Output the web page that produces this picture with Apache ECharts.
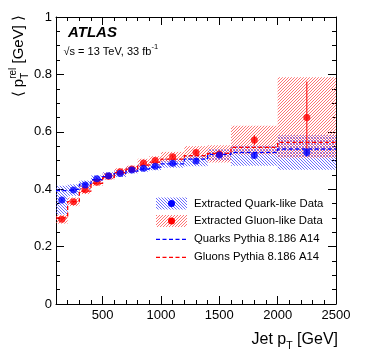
<!DOCTYPE html>
<html><head><meta charset="utf-8">
<script src="https://cdn.jsdelivr.net/npm/echarts@6/dist/echarts.min.js"></script>
<style>html,body{margin:0;padding:0;background:#fff}#c{width:374px;height:355px}</style>
</head><body><div id="c"></div>
<script>
// ---- data ----
const binEdges = [100,200,300,400,500,600,700,800,900,1000,1200,1400,1600,2000,2500];
const quarkData = [0.362,0.397,0.415,0.436,0.447,0.455,0.467,0.473,0.480,0.490,0.498,0.519,0.517,0.528];
const quarkStat = [0.005,0.004,0.004,0.003,0.003,0.003,0.003,0.003,0.004,0.004,0.005,0.007,0.010,0.015];
const quarkSyst = [0.050,0.020,0.015,0.012,0.012,0.012,0.012,0.012,0.014,0.015,0.018,0.020,0.035,0.060];
const gluonData = [0.295,0.356,0.398,0.424,0.445,0.461,0.470,0.491,0.500,0.513,0.528,0.523,0.571,0.650];
const gluonStat = [0.004,0.003,0.003,0.003,0.003,0.003,0.003,0.004,0.004,0.005,0.007,0.010,0.018,0.125];
const gluonSyst = [0.015,0.015,0.015,0.012,0.012,0.012,0.012,0.015,0.015,0.017,0.022,0.030,0.050,0.140];
const quarkMC = [0.395,0.400,0.418,0.433,0.444,0.455,0.463,0.470,0.477,0.488,0.505,0.521,0.528,0.540];
const gluonMC = [0.300,0.357,0.393,0.420,0.440,0.458,0.470,0.484,0.494,0.505,0.517,0.525,0.546,0.563];
const xTickLabels = [500,1000,1500,2000,2500];
const yTickLabels = [0,0.2,0.4,0.6,0.8,1];
const legendLabels = ['Extracted Quark-like Data','Extracted Gluon-like Data','Quarks Pythia 8.186 A14','Gluons Pythia 8.186 A14'];

const FONT = '"Liberation Sans", Arial, Helvetica, sans-serif';
const BLUE = '#0000ff', RED = '#ff0000';
const mctx = document.createElement('canvas').getContext('2d');
function tw(t, size, pre){ mctx.font = (pre||'') + ' ' + size + 'px ' + FONT; return mctx.measureText(t).width; }

function makeHatch(color, back){
  const s = 3, c = document.createElement('canvas'); c.width = s; c.height = s;
  const g = c.getContext('2d'); g.fillStyle = color;
  for (let i = 0; i < s; i++) { const x = back ? i : s - 1 - i; g.fillRect(x, i, 1, 1); }
  return {image: c, repeat: 'repeat'};
}
const blueHatch = makeHatch('rgba(60,60,255,0.75)', true);
const redHatch = makeHatch('rgba(255,70,70,0.75)', false);

const centers = quarkData.map((_, i) => (binEdges[i] + binEdges[i+1]) / 2);

function bandSeries(vals, syst, pattern){
  return {type:'custom', xAxisIndex:0, yAxisIndex:0, z:2,
    data: vals.map((v,i)=>[binEdges[i], binEdges[i+1], v - syst[i], v + syst[i]]),
    encode:{x:[0,1], y:[2,3]},
    renderItem:(p, api)=>{
      const a = api.coord([api.value(0), api.value(3)]);
      const b = api.coord([api.value(1), api.value(2)]);
      return {type:'rect', shape:{x:a[0], y:a[1], width:b[0]-a[0], height:b[1]-a[1]}, style:{fill:pattern}};
    }};
}
function errSeries(vals, stat, color){
  return {type:'custom', xAxisIndex:0, yAxisIndex:0, z:4,
    data: vals.map((v,i)=>[centers[i], v - stat[i], v + stat[i]]),
    encode:{x:0, y:[1,2]},
    renderItem:(p, api)=>{
      const a = api.coord([api.value(0), api.value(2)]);
      const b = api.coord([api.value(0), api.value(1)]);
      return {type:'line', shape:{x1:a[0], y1:a[1], x2:b[0], y2:b[1]}, style:{stroke:color, lineWidth:1}};
    }};
}
function mcSeries(vals, color){
  const d = vals.map((v,i)=>[binEdges[i], v]);
  d.push([binEdges[binEdges.length-1], vals[vals.length-1]]);
  return {type:'line', step:'end', xAxisIndex:0, yAxisIndex:0, z:3, symbol:'none', data:d,
    lineStyle:{color:color, width:1.3, type:[4,2.5]}, silent:true};
}

const chart = echarts.init(document.getElementById('c'), null, {renderer:'canvas'});
const grid = {left:56, right:38, top:17, bottom:51};
const tickLab = {color:'#000', fontSize:13, fontFamily:FONT};
const minorX = (pos, gi) => ({type:'value', gridIndex:gi, position:pos, min:100, max:2500, interval:100,
  axisLine:{show:true, onZero:false, lineStyle:{color:'#000', width:1}},
  axisTick:{show:true, inside:true, length:4, lineStyle:{color:'#000'}},
  axisLabel:{show:false}, splitLine:{show:false}});
const majorX = (pos, gi, lab) => ({type:'value', gridIndex:gi, position:pos, min:100, max:2500,
  axisLine:{show:false, onZero:false},
  axisTick:{show:true, inside:true, length:8, customValues:xTickLabels, lineStyle:{color:'#000'}},
  axisLabel:{show:lab, customValues:xTickLabels, margin:5, formatter:v=>String(Math.round(v)), ...tickLab}, splitLine:{show:false}});
const yAx = (pos, gi, lab) => ({type:'value', gridIndex:gi, position:pos, min:0, max:1, interval:0.2,
  axisLine:{show:true, onZero:false, lineStyle:{color:'#000', width:1}},
  axisTick:{show:true, inside:true, length:8, lineStyle:{color:'#000'}},
  minorTick:{show:true, splitNumber:4, length:4, lineStyle:{color:'#000'}},
  axisLabel:{show:lab, margin:4, formatter:v=>String(+(+v).toFixed(1)), ...tickLab}, splitLine:{show:false}});

// ---- text annotations ----
const g = [];
const mid = (t, font) => ({text:t, font:font, fill:'#000', textVerticalAlign:'middle', verticalAlign:'middle'});
g.push({type:'text', x:68, y:33, style:mid('ATLAS', 'italic bold 15px '+FONT)});
const s1 = '\u221As = 13 TeV, 33 fb';
g.push({type:'text', x:63.5, y:51.5, style:mid(s1, '11px '+FONT)});
g.push({type:'text', x:63.5 + tw(s1,11), y:47, style:mid('-1', '7.5px '+FONT)});
// x axis title
(function(){
  const fs = 16, a='Jet p', b='T', c=' [GeV]';
  const wa=tw(a,fs), wb=tw(b,10.5), wc=tw(c,fs);
  const x0 = 338 - (wa+wb+wc), y = 340;
  g.push({type:'text', x:x0, y:y, style:mid(a, fs+'px '+FONT)});
  g.push({type:'text', x:x0+wa, y:y+6, style:mid(b, '10.5px '+FONT)});
  g.push({type:'text', x:x0+wa+wb, y:y, style:mid(c, fs+'px '+FONT)});
})();
// y axis title (rotated)
(function(){
  const fs = 15, a='\u27E8 p', sup='rel', sub='T', c=' [GeV] \u27E9';
  const wa=tw(a,fs), ws=Math.max(tw(sup,10), tw(sub,10)), wc=tw(c,fs);
  const total = wa+ws+wc;
  g.push({type:'group', x:19, y:15+total, rotation:Math.PI/2, children:[
    {type:'text', x:0, y:0, style:mid(a, fs+'px '+FONT)},
    {type:'text', x:wa, y:-6, style:mid(sup, '10px '+FONT)},
    {type:'text', x:wa, y:6, style:mid(sub, '10px '+FONT)},
    {type:'text', x:wa+ws, y:0, style:mid(c, fs+'px '+FONT)}
  ]});
})();
// legend
(function(){
  const lx = 156, lw = 31, tx = 194, ys = [203.5, 221, 239.3, 257.3];
  const fnt = '11.3px ' + FONT;
  [[blueHatch, BLUE],[redHatch, RED]].forEach((it, i) => {
    g.push({type:'rect', shape:{x:lx, y:ys[i]-6, width:lw, height:12}, style:{fill:it[0]}});
    g.push({type:'circle', shape:{cx:lx+lw/2, cy:ys[i], r:3.5}, style:{fill:it[1]}});
  });
  [BLUE, RED].forEach((col, i) => {
    g.push({type:'line', shape:{x1:lx, y1:ys[i+2], x2:lx+lw, y2:ys[i+2]}, style:{stroke:col, lineWidth:1.3, lineDash:[4,2.5]}});
  });
  legendLabels.forEach((t, i) => g.push({type:'text', x:tx, y:ys[i], style:mid(t, fnt)}));
})();

chart.setOption({
  animation:false,
  backgroundColor:'#fff',
  grid:[grid, grid],
  xAxis:[minorX('bottom',0), minorX('top',0), majorX('bottom',1,true), majorX('top',1,false)],
  yAxis:[yAx('left',0,true), yAx('right',0,false), {type:'value', gridIndex:1, min:0, max:1, show:false}],
  series:[
    bandSeries(quarkData, quarkSyst, blueHatch),
    bandSeries(gluonData, gluonSyst, redHatch),
    mcSeries(quarkMC, BLUE),
    mcSeries(gluonMC, RED),
    errSeries(gluonData, gluonStat, RED),
    errSeries(quarkData, quarkStat, BLUE),
    {type:'scatter', xAxisIndex:0, yAxisIndex:0, z:5, symbol:'circle', symbolSize:7, itemStyle:{color:RED}, data:gluonData.map((v,i)=>[centers[i], v])},
    {type:'scatter', xAxisIndex:0, yAxisIndex:0, z:6, symbol:'circle', symbolSize:7, itemStyle:{color:BLUE}, data:quarkData.map((v,i)=>[centers[i], v])}
  ],
  graphic:{elements:g}
});
</script>
</body></html>
